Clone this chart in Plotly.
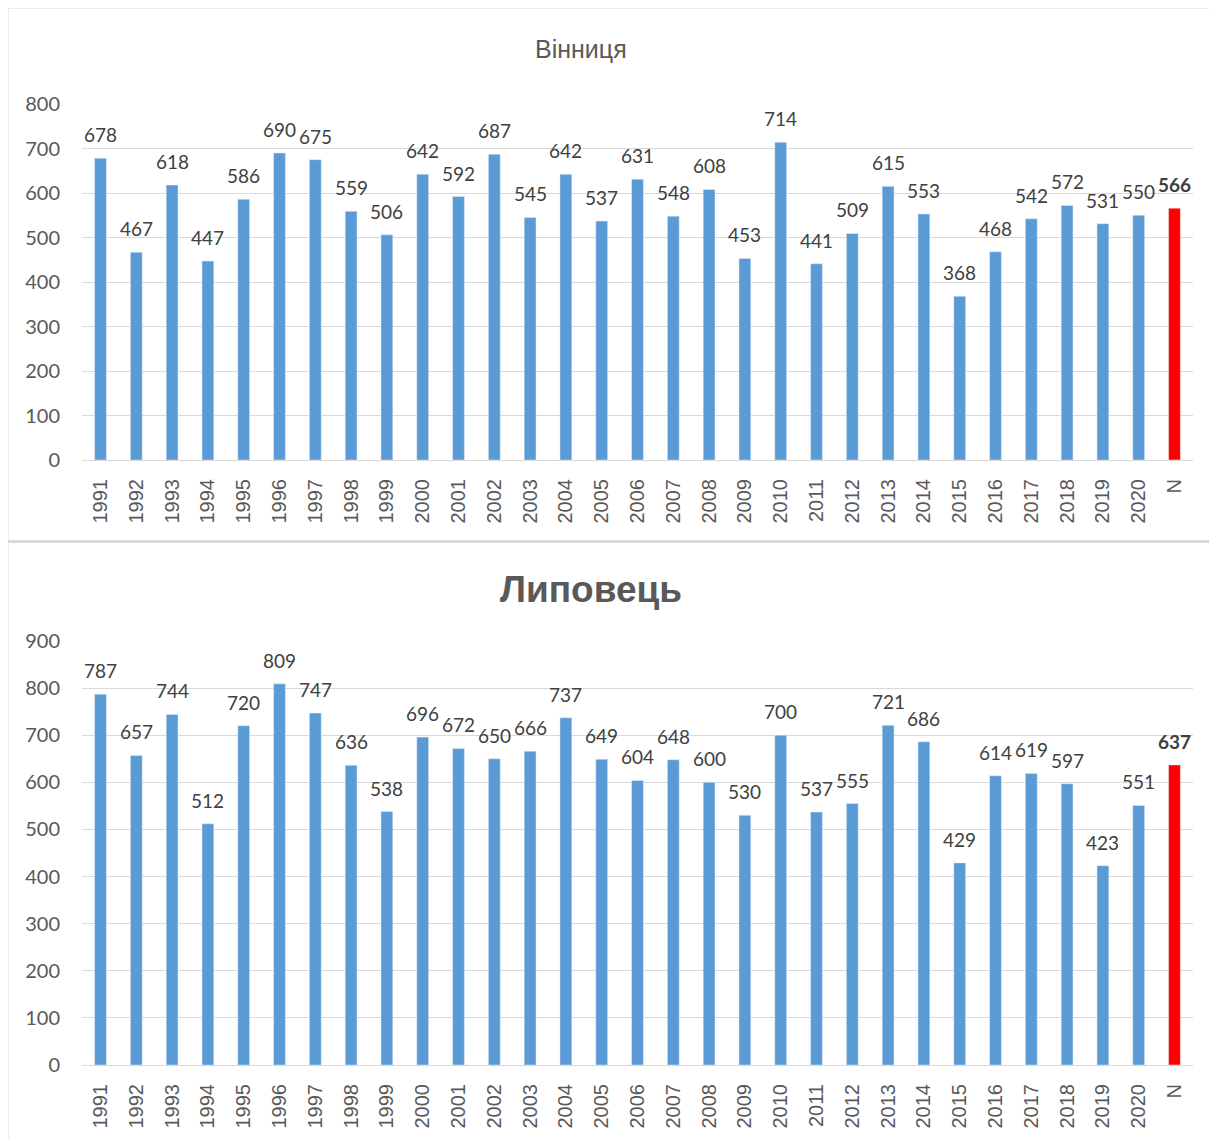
import plotly.graph_objects as go

categories = [str(y) for y in range(1991, 2021)] + ["N"]
vinnytsia = [678, 467, 618, 447, 586, 690, 675, 559, 506, 642, 592, 687, 545, 642, 537,
             631, 548, 608, 453, 714, 441, 509, 615, 553, 368, 468, 542, 572, 531, 550, 566]
lypovets = [787, 657, 744, 512, 720, 809, 747, 636, 538, 696, 672, 650, 666, 737, 649,
            604, 648, 600, 530, 700, 537, 555, 721, 686, 429, 614, 619, 597, 423, 551, 637]

W, H = 1217, 1139
OFF = 8  # page body margin
BLUE = "#5b9bd5"
RED = "#ff0000"
GRID = "#d9d9d9"

def py(p):
    return 1 - (p - OFF) / H

def px(p):
    return (p - OFF) / W

def colors(n):
    return [BLUE] * (n - 1) + [RED]

def labels(vals):
    return [str(v) for v in vals[:-1]] + ["<b>%d</b>" % vals[-1]]

fig = go.Figure()
for vals, xa, ya in [(vinnytsia, "x", "y"), (lypovets, "x2", "y2")]:
    fig.add_trace(go.Bar(x=categories, y=vals, marker_color=colors(len(vals)),
                         xaxis=xa, yaxis=ya, width=0.33, showlegend=False, hoverinfo="x+y"))
    for i, (v, t) in enumerate(zip(vals, labels(vals))):
        fig.add_annotation(x=i, y=v, xref=xa, yref=ya, text=t, showarrow=False,
                           yanchor="bottom", yshift=10,
                           font=dict(family="Lato", size=19, color="#404040"))

xd = [px(82), px(1193)]
common_x = dict(type="category", domain=xd, tickangle=-90, showgrid=False, showline=True,
                linecolor=GRID, linewidth=1, ticks="", automargin=False, ticklabelstandoff=10,
                tickfont=dict(family="Liberation Sans", size=20, color="#595959"))
common_y = dict(dtick=100, showgrid=True, gridcolor=GRID, gridwidth=1, zeroline=False,
                ticks="", automargin=False, ticklabelstandoff=21,
                tickfont=dict(family="Lato", size=20, color="#595959"))
fig.update_layout(
    width=W, height=H, margin=dict(l=0, r=0, t=0, b=0, autoexpand=False),
    plot_bgcolor="white", paper_bgcolor="white",
    xaxis=dict(**common_x, anchor="y"),
    yaxis=dict(**common_y, domain=[py(460), py(104)], range=[0, 800], anchor="x"),
    xaxis2=dict(**common_x, anchor="y2"),
    yaxis2=dict(**common_y, domain=[py(1065), py(641)], range=[0, 900], anchor="x2"),
    bargap=0.67,
)

fig.add_annotation(text="Вінниця", x=px(581), y=py(49), xref="paper", yref="paper",
                   xanchor="center", yanchor="middle", showarrow=False,
                   font=dict(family="Liberation Sans", size=25, color="#595959"))
fig.add_annotation(text="<b>Липовець</b>", x=px(591), y=py(589), xref="paper", yref="paper",
                   xanchor="center", yanchor="middle", showarrow=False,
                   font=dict(family="Liberation Sans", size=37, color="#595959"))

fig.add_shape(type="rect", xref="paper", yref="paper", x0=px(7.5), x1=1.01, y0=py(541), y1=py(7.5),
              line=dict(color=GRID, width=2))
fig.add_shape(type="rect", xref="paper", yref="paper", x0=px(7.5), x1=1.01, y0=-0.01, y1=py(542),
              line=dict(color=GRID, width=2))

fig.write_html("out.html")
